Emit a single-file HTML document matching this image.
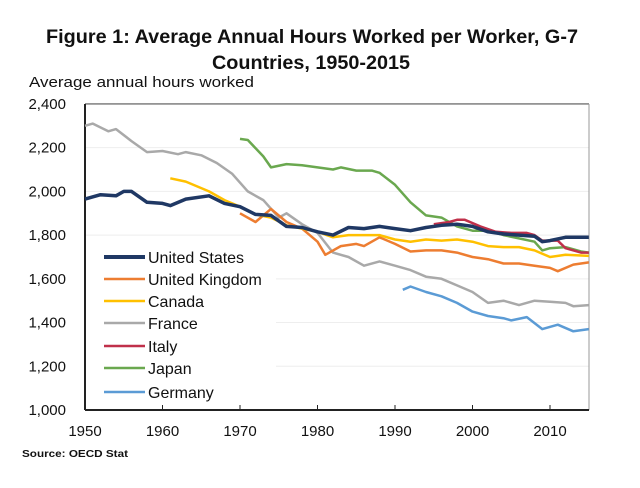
<!DOCTYPE html>
<html><head><meta charset="utf-8"><style>
html,body{margin:0;padding:0;background:#fff;}
svg text{font-family:"Liberation Sans",sans-serif;fill:#111;}
</style></head><body>
<svg id="s" width="640" height="483" viewBox="0 0 640 483" xmlns="http://www.w3.org/2000/svg">
<text x="312" y="43" font-size="19" font-weight="bold" text-anchor="middle" textLength="532" lengthAdjust="spacingAndGlyphs">Figure 1: Average Annual Hours Worked per Worker, G-7</text>
<text x="311" y="69" font-size="19" font-weight="bold" text-anchor="middle" textLength="198" lengthAdjust="spacingAndGlyphs">Countries, 1950-2015</text>
<text x="29" y="87" font-size="15" textLength="225" lengthAdjust="spacingAndGlyphs">Average annual hours worked</text>
<g id="grid"></g>
<g id="lines" fill="none" stroke-linejoin="round"></g>
<g id="leg"></g>
<text x="22" y="457" font-size="10.5" font-weight="bold" fill="#333" textLength="106" lengthAdjust="spacingAndGlyphs">Source: OECD Stat</text>
</svg>
<script>
var NS="http://www.w3.org/2000/svg";
function X(y){return 85+(y-1950)*7.75;}
function Y(v){return 410-(v-1000)*0.2186;}
function el(t,a,p,txt){var e=document.createElementNS(NS,t);for(var k in a)e.setAttribute(k,a[k]);if(txt)e.textContent=txt;document.getElementById(p).appendChild(e);return e;}
for(var v=1000;v<=2400;v+=200){var y=Y(v);
 if(v>1000&&v<2400)el('line',{x1:85,x2:589,y1:y,y2:y,stroke:'#eeeeee','stroke-width':1},'grid');
 el('text',{x:66,y:y+5,'font-size':15,'text-anchor':'end'},'grid',v.toLocaleString('en-US'));}
el('line',{x1:85,x2:589,y1:Y(2400),y2:Y(2400),stroke:'#555','stroke-width':1.2},'grid');
el('line',{x1:589,x2:589,y1:Y(2400),y2:410,stroke:'#999','stroke-width':1},'grid');
el('line',{x1:85,x2:85,y1:Y(2400),y2:410,stroke:'#222','stroke-width':2},'grid');
el('line',{x1:85,x2:589,y1:410,y2:410,stroke:'#222','stroke-width':2},'grid');
for(var yr=1950;yr<=2010;yr+=10){var x=X(yr);el('line',{x1:x,x2:x,y1:405,y2:410,stroke:'#222','stroke-width':1},'grid');
 el('text',{x:x,y:436,'font-size':15,'text-anchor':'middle'},'grid',yr);}
var S=[
['France','#a9a9a9',2.5,[1950,2300,1951,2310,1953,2275,1954,2285,1956,2230,1958,2180,1960,2185,1962,2170,1963,2180,1965,2165,1967,2130,1969,2080,1971,2000,1973,1960,1975,1880,1976,1900,1978,1850,1980,1810,1982,1720,1984,1700,1986,1660,1988,1680,1990,1660,1992,1640,1994,1610,1996,1600,1998,1570,2000,1540,2002,1490,2004,1500,2006,1480,2008,1500,2010,1495,2012,1490,2013,1475,2015,1480]],
['Japan','#6aa84f',2.5,[1970,2240,1971,2235,1973,2160,1974,2110,1976,2125,1978,2120,1980,2110,1982,2100,1983,2110,1985,2095,1987,2095,1988,2085,1990,2030,1992,1950,1994,1890,1996,1880,1998,1840,2000,1820,2002,1820,2004,1800,2006,1785,2008,1770,2009,1730,2010,1740,2012,1745,2014,1725,2015,1720]],
['UK','#ed7d31',2.5,[1970,1900,1972,1860,1974,1920,1976,1860,1978,1830,1980,1770,1981,1710,1983,1750,1985,1760,1986,1750,1988,1790,1990,1760,1992,1725,1994,1730,1996,1730,1998,1720,2000,1700,2002,1690,2004,1670,2006,1670,2008,1660,2010,1650,2011,1635,2013,1665,2015,1675]],
['Canada','#ffc000',2.5,[1961,2060,1963,2045,1966,2000,1968,1960,1970,1930,1972,1895,1974,1880,1976,1845,1978,1830,1980,1815,1982,1790,1984,1800,1986,1800,1988,1800,1990,1780,1992,1770,1994,1780,1996,1775,1998,1780,2000,1770,2002,1750,2004,1745,2006,1745,2008,1730,2010,1700,2012,1710,2015,1705]],
['Germany','#5b9bd5',2.5,[1991,1550,1992,1565,1994,1540,1996,1520,1998,1490,2000,1450,2002,1430,2004,1420,2005,1410,2007,1425,2009,1370,2011,1390,2013,1360,2015,1370]],
['Italy','#c0304a',2.5,[1995,1850,1997,1860,1998,1870,1999,1870,2001,1840,2003,1815,2005,1810,2007,1810,2008,1800,2009,1775,2011,1775,2012,1740,2014,1720,2015,1720]],
['US','#1f3864',3.5,[1950,1965,1952,1985,1954,1980,1955,2000,1956,2000,1958,1950,1960,1945,1961,1935,1963,1965,1966,1980,1968,1945,1970,1930,1972,1895,1974,1890,1976,1840,1978,1835,1980,1815,1982,1800,1984,1835,1986,1830,1988,1840,1990,1830,1992,1820,1994,1835,1996,1845,1998,1850,2000,1840,2002,1815,2004,1805,2006,1800,2008,1795,2009,1770,2010,1775,2012,1790,2015,1790]]];
S.forEach(function(s){var d=s[3],p=[];for(var i=0;i<d.length;i+=2)p.push(X(d[i]).toFixed(1)+','+Y(d[i+1]).toFixed(1));
 el('polyline',{points:p.join(' '),stroke:s[1],'stroke-width':s[2]},'lines');});
var L=[['United States','#1f3864',4,257],['United Kingdom','#ed7d31',2.5,279],['Canada','#ffc000',2.5,301],['France','#a9a9a9',2.5,323],['Italy','#c0304a',2.5,346],['Japan','#6aa84f',2.5,368],['Germany','#5b9bd5',2.5,392]];
L.forEach(function(l){el('rect',{x:86,y:l[3]-5,width:190,height:12,fill:'#fff'},'leg');});
L.forEach(function(l){el('line',{x1:104,x2:145,y1:l[3],y2:l[3],stroke:l[1],'stroke-width':l[2]},'leg');
 el('text',{x:148,y:l[3]+6,'font-size':16},'leg',l[0]);});
</script>
</body></html>
